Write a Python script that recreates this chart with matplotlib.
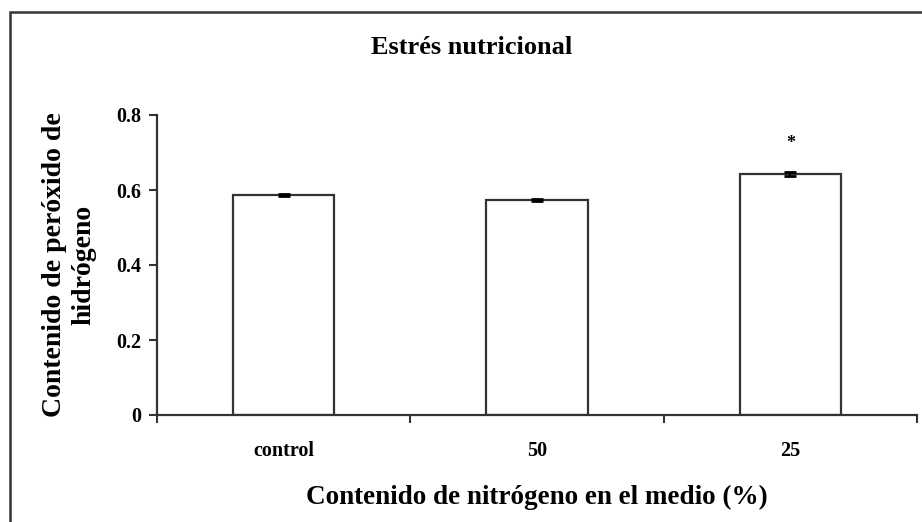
import matplotlib; matplotlib.use("Agg")
import matplotlib.pyplot as plt
from matplotlib.patches import Rectangle

plt.rcParams["font.family"] = ["Liberation Serif", "DejaVu Serif"]
plt.rcParams["font.weight"] = "bold"

categories = ["control", "50", "25"]
values = [0.587, 0.573, 0.643]
errors = [0.002, 0.003, 0.005]
signif = ["", "", "*"]

fig = plt.figure(figsize=(9.22, 5.22), dpi=100)
ax = fig.add_axes([157/922, 1-415/522, 760/922, 300/522])

x = list(range(len(categories)))
ax.bar(x, values, width=0.4, color="white", edgecolor="#333333", linewidth=1.6, zorder=2)
ax.errorbar(x, values, yerr=errors, fmt="none", ecolor="black", elinewidth=1.5,
            capsize=4.5, capthick=2, zorder=3)
for xi, v, e, s in zip(x, values, errors, signif):
    if s:
        ax.text(xi, v + e + 0.075, s, ha="center", va="center", fontsize=13, fontweight="bold")

ax.set_xlim(-0.5, len(categories) - 0.5)
ax.set_ylim(0, 0.8)
ax.set_yticks([0, 0.2, 0.4, 0.6, 0.8])
ax.set_yticklabels(["0", "0.2", "0.4", "0.6", "0.8"])
ax.set_xticks(x)
ax.set_xticklabels(categories)
ax.set_xticks([-0.5, 0.5, 1.5, 2.5], minor=True)
ax.tick_params(axis="x", which="major", length=0, pad=19, labelsize=14.5)
ax.tick_params(axis="x", which="minor", length=6, width=1.5, color="#333333", direction="out")
ax.tick_params(axis="y", length=6, width=1.5, color="#333333", labelsize=14.5, pad=5)
for side in ("top", "right"):
    ax.spines[side].set_visible(False)
for side in ("left", "bottom"):
    ax.spines[side].set_linewidth(1.6)
    ax.spines[side].set_color("#333333")

ax.set_xlabel("Contenido de nitrógeno en el medio (%)", fontsize=19.5, fontweight="bold", labelpad=17)
fig.text(69/922, 1-265/522, "Contenido de peróxido de\nhidrógeno", rotation=90,
         ha="center", va="center", fontsize=20, fontweight="bold", linespacing=1.25)
fig.text(472/922, 1-48/522, "Estrés nutricional", ha="center", va="center",
         fontsize=19, fontweight="bold")

# frame around the whole figure
fig.patches.append(Rectangle((10/922, -0.05), 1.0, 1-12/522+0.05, transform=fig.transFigure,
                             fill=False, edgecolor="#333333", linewidth=1.8))

fig.savefig("out.png", dpi=100)
